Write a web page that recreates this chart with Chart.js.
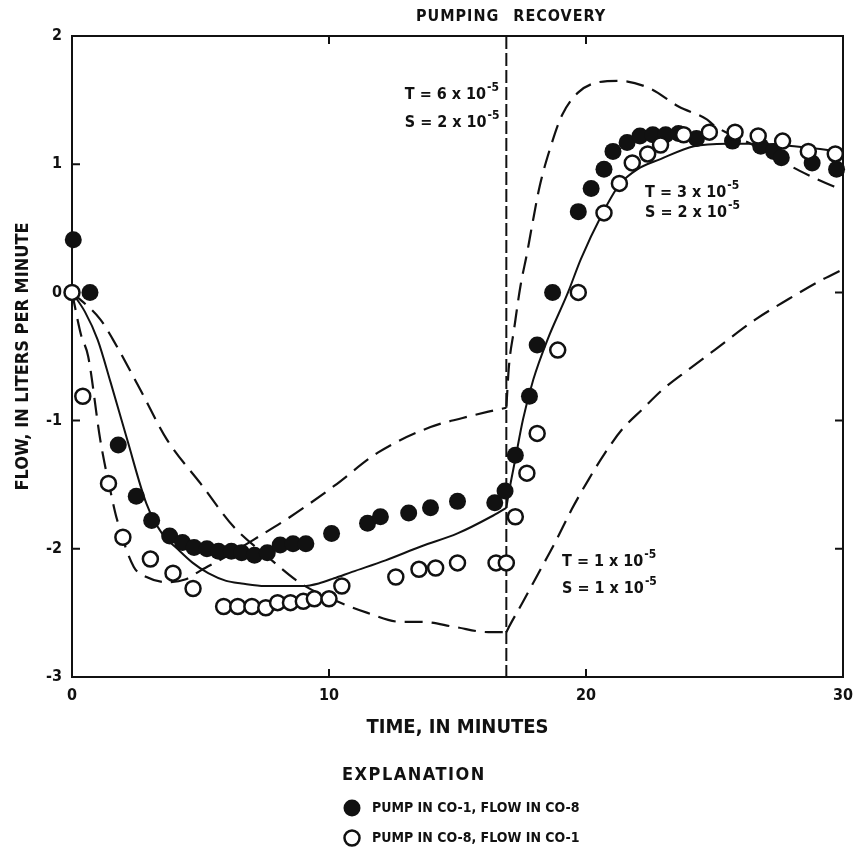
<!DOCTYPE html>
<html>
<head>
<meta charset="utf-8">
<title>Flow, in liters per minute</title>
<script src="https://cdn.jsdelivr.net/npm/chart.js@4.4.0/dist/chart.umd.min.js"></script>
<style>
  body { margin: 0; background: #fff; }
  canvas { display: block; }
</style>
</head>
<body>
<canvas id="chart-canvas" width="853" height="850"></canvas>
<script>
'use strict';

/* DATA */
const pumpEnd = 16.9;
const xTicks = [0, 10, 20, 30];
const yTicks = [2, 1, 0, -1, -2, -3];

// PUMP IN CO-1, FLOW IN CO-8 (filled circles)
const co1X = [0.05, 0.7, 1.8, 2.5, 3.1, 3.8, 4.3, 4.75, 5.25, 5.7, 6.2, 6.6, 7.1, 7.6, 8.1, 8.6, 9.1,
  10.1, 11.5, 12.0, 13.1, 13.95, 15.0, 16.45, 16.85, 17.25, 17.8, 18.1, 18.7, 19.7, 20.2, 20.7,
  21.05, 21.6, 22.1, 22.6, 23.1, 23.6, 24.3, 25.7, 26.8, 27.3, 27.6, 28.8, 29.75];
const co1Y = [0.41, 0.0, -1.19, -1.59, -1.78, -1.90, -1.95, -1.99, -2.0, -2.02, -2.02, -2.03, -2.05, -2.03, -1.97, -1.96, -1.96,
  -1.88, -1.80, -1.75, -1.72, -1.68, -1.63, -1.64, -1.55, -1.27, -0.81, -0.41, 0.0, 0.63, 0.81, 0.96,
  1.10, 1.17, 1.22, 1.23, 1.23, 1.24, 1.20, 1.18, 1.14, 1.10, 1.05, 1.01, 0.96];

// PUMP IN CO-8, FLOW IN CO-1 (open circles)
const co8X = [0, 0.42, 1.42, 1.98, 3.05, 3.93, 4.71, 5.9, 6.45, 7.0, 7.54, 8.0, 8.5, 9.0, 9.43, 10.0, 10.5,
  12.6, 13.5, 14.15, 15.0, 16.5, 16.9, 17.25, 17.7, 18.1, 18.9, 19.7, 20.7, 21.3, 21.8, 22.4, 22.9,
  23.8, 24.8, 25.8, 26.7, 27.65, 28.65, 29.7];
const co8Y = [0, -0.81, -1.49, -1.91, -2.08, -2.19, -2.31, -2.45, -2.45, -2.45, -2.46, -2.42, -2.42, -2.41, -2.39, -2.39, -2.29,
  -2.22, -2.16, -2.15, -2.11, -2.11, -2.11, -1.75, -1.41, -1.10, -0.45, 0.0, 0.62, 0.85, 1.01, 1.08, 1.15,
  1.23, 1.25, 1.25, 1.22, 1.18, 1.10, 1.08];

// model curve T = 3 x 10-5, S = 2 x 10-5 (solid)
const fitPumpX = [0, 0.5, 1.0, 1.5, 2.15, 2.9, 3.5, 4.1, 4.7, 5.3, 6.0, 6.6, 7.5, 8.3, 9.0, 9.6, 10.2, 10.9, 12.2, 13.6, 15.0, 16.3, 16.9];
const fitPumpY = [0, -0.15, -0.37, -0.7, -1.15, -1.65, -1.88, -2.0, -2.11, -2.19, -2.25, -2.27, -2.29, -2.29, -2.29, -2.27, -2.23, -2.18, -2.09, -1.98, -1.88, -1.75, -1.68];
const fitRecX = [16.9, 17.0, 17.25, 17.55, 17.95, 18.5, 19.3, 19.8, 20.6, 21.3, 22.0, 22.9, 24.2, 25.5, 26.8, 28.1, 29.4, 30];
const fitRecY = [-1.68, -1.56, -1.3, -0.99, -0.68, -0.37, 0.0, 0.26, 0.6, 0.84, 0.96, 1.04, 1.14, 1.16, 1.16, 1.14, 1.11, 1.09];

// model curve T = 6 x 10-5, S = 2 x 10-5 (dashed)
const fastPumpX = [0, 0.35, 0.63, 1.1, 1.55, 1.75, 2.4, 2.9, 3.7, 4.4, 5.0, 6.0, 7.06, 8.5, 10.2, 11.9, 13.95, 15.2, 16.2, 16.9];
const fastPumpY = [0, -0.33, -0.5, -1.15, -1.6, -1.77, -2.14, -2.22, -2.26, -2.24, -2.17, -2.06, -1.93, -1.75, -1.51, -1.25, -1.05, -0.98, -0.93, -0.9];
const fastRecX = [16.9, 17.0, 17.2, 17.45, 17.7, 17.9, 18.2, 18.6, 19.06, 19.7, 20.5, 21.3, 22.5, 23.6, 24.7, 25.0, 26.5, 28.3, 29.6, 30];
const fastRecY = [-0.9, -0.58, -0.29, 0.05, 0.3, 0.52, 0.83, 1.12, 1.38, 1.56, 1.64, 1.65, 1.59, 1.45, 1.35, 1.30, 1.15, 0.95, 0.83, 0.80];

// model curve T = 1 x 10-5, S = 1 x 10-5 (dashed)
const slowPumpX = [0, 1.1, 1.6, 2.66, 3.7, 5.0, 6.3, 7.6, 8.9, 10.2, 11.5, 12.8, 13.6, 14.9, 16.2, 16.9];
const slowPumpY = [0, -0.21, -0.37, -0.76, -1.15, -1.49, -1.83, -2.06, -2.27, -2.4, -2.5, -2.57, -2.57, -2.61, -2.65, -2.65];
const slowRecX = [16.9, 17.0, 17.5, 18.15, 18.8, 19.45, 20.1, 20.75, 21.4, 22.2, 22.97, 24.0, 25.0, 26.6, 27.9, 29.2, 30];
const slowRecY = [-2.65, -2.61, -2.43, -2.19, -1.95, -1.69, -1.46, -1.25, -1.07, -0.91, -0.76, -0.6, -0.45, -0.21, -0.05, 0.1, 0.18];

// texts
const seriesNames = ['PUMP IN CO-1, FLOW IN CO-8', 'PUMP IN CO-8, FLOW IN CO-1'];
const modelTexts = [
  ['T = 6 x 10', 'S = 2 x 10'],
  ['T = 3 x 10', 'S = 2 x 10'],
  ['T = 1 x 10', 'S = 1 x 10'],
];
const exponent = '-5';
const phaseNames = ['PUMPING', 'RECOVERY'];

/* STYLE */
const ink = '#111';
const family = "'Liberation Sans Narrow', 'DejaVu Sans Condensed', 'Arial Narrow', sans-serif";
const dash = [18, 9];
// where each model label sits, in data units (left edge, first row, second row)
const modelSpots = [[12.95, 1.54, 1.32], [22.3, 0.78, 0.62], [19.07, -2.1, -2.31]];

function toPoints(xs, ys) {
  return xs.map((x, i) => ({ x: x, y: ys[i] }));
}

function curve(xs, ys, dashed) {
  return {
    data: toPoints(xs, ys),
    showLine: true,
    borderColor: ink,
    borderWidth: dashed ? 2.2 : 2,
    borderDash: dashed ? dash : [],
    pointRadius: 0,
    cubicInterpolationMode: 'monotone',
    order: 2
  };
}

function font(size) {
  return `bold ${size}px ${family}`;
}

function drawPower(ctx, base, px, py) {
  ctx.font = font(16);
  ctx.fillText(base, px, py);
  const w = ctx.measureText(base).width;
  ctx.font = font(12);
  ctx.fillText(exponent, px + w + 1, py - 7);
}

/* PLUGIN: FRAME, TICKS, PHASE LINE, LABELS, EXPLANATION */
const decorations = {
  id: 'decorations',
  beforeDatasetsDraw(chart) {
    const { ctx, chartArea: a, scales: { x, y } } = chart;
    ctx.save();
    ctx.strokeStyle = ink;
    ctx.lineWidth = 2;
    ctx.strokeRect(a.left, a.top, a.right - a.left, a.bottom - a.top);

    // inside ticks
    const tick = 8;
    ctx.beginPath();
    xTicks.slice(1, -1).forEach(v => {
      const px = x.getPixelForValue(v);
      ctx.moveTo(px, a.bottom); ctx.lineTo(px, a.bottom - tick);
      ctx.moveTo(px, a.top); ctx.lineTo(px, a.top + tick);
    });
    yTicks.slice(1, -1).forEach(v => {
      const py = y.getPixelForValue(v);
      ctx.moveTo(a.left, py); ctx.lineTo(a.left + tick, py);
      ctx.moveTo(a.right, py); ctx.lineTo(a.right - tick, py);
    });
    ctx.stroke();

    // end of pumping
    const px = x.getPixelForValue(pumpEnd);
    ctx.setLineDash([13, 4]);
    ctx.beginPath();
    ctx.moveTo(px, a.top);
    ctx.lineTo(px, a.bottom);
    ctx.stroke();
    ctx.restore();
  },
  afterDatasetsDraw(chart) {
    const { ctx, chartArea: a, scales: { x, y } } = chart;
    const px = x.getPixelForValue(pumpEnd);
    ctx.save();
    ctx.fillStyle = ink;
    ctx.textBaseline = 'middle';

    ctx.font = font(16);
    ctx.letterSpacing = '1px';
    ctx.textAlign = 'right';
    ctx.fillText(phaseNames[0], px - 7, a.top - 19);
    ctx.textAlign = 'left';
    ctx.fillText(phaseNames[1], px + 7, a.top - 19);
    ctx.letterSpacing = '0px';

    modelTexts.forEach((rows, i) => {
      const [lx, y1, y2] = modelSpots[i];
      drawPower(ctx, rows[0], x.getPixelForValue(lx), y.getPixelForValue(y1));
      drawPower(ctx, rows[1], x.getPixelForValue(lx), y.getPixelForValue(y2));
    });

    // explanation
    const ex = 342;
    ctx.font = font(18);
    ctx.letterSpacing = '1.5px';
    ctx.fillText('EXPLANATION', ex, 775);
    ctx.letterSpacing = '0px';
    ctx.font = font(14);
    seriesNames.forEach((name, i) => {
      const cy = 808 + i * 30;
      ctx.beginPath();
      ctx.arc(ex + 10, cy, i === 0 ? 8.5 : 7.5, 0, Math.PI * 2);
      if (i === 0) {
        ctx.fill();
      } else {
        ctx.lineWidth = 2.5;
        ctx.strokeStyle = ink;
        ctx.stroke();
      }
      ctx.fillText(name, ex + 30, cy);
    });
    ctx.restore();
  }
};

/* CHART */
const ctx = document.getElementById('chart-canvas').getContext('2d');

new Chart(ctx, {
  type: 'scatter',
  data: {
    datasets: [
      {
        data: toPoints(co8X, co8Y),
        pointRadius: 7.5,
        pointBackgroundColor: '#fff',
        pointBorderColor: ink,
        pointBorderWidth: 2.5,
        clip: false,
        order: 0
      },
      {
        data: toPoints(co1X, co1Y),
        pointRadius: 8.5,
        pointBackgroundColor: ink,
        pointBorderColor: ink,
        pointBorderWidth: 0,
        clip: false,
        order: 1
      },
      curve(fitPumpX, fitPumpY, false),
      curve(fitRecX, fitRecY, false),
      curve(fastPumpX, fastPumpY, true),
      curve(fastRecX, fastRecY, true),
      curve(slowPumpX, slowPumpY, true),
      curve(slowRecX, slowRecY, true)
    ]
  },
  options: {
    responsive: false,
    animation: false,
    devicePixelRatio: 1,
    layout: { padding: { top: 36, right: 10, left: 0, bottom: 0 } },
    plugins: {
      legend: { display: false },
      tooltip: { enabled: false }
    },
    scales: {
      x: {
        type: 'linear',
        min: xTicks[0],
        max: xTicks[xTicks.length - 1],
        afterBuildTicks: s => { s.ticks = xTicks.map(v => ({ value: v })); },
        afterFit: s => { s.height = 173; s.paddingLeft = 0; s.paddingRight = 0; },
        grid: { display: false, drawTicks: false },
        border: { display: false },
        ticks: { color: ink, padding: 9, font: { family: family, size: 16, weight: 'bold' } },
        title: {
          display: true,
          text: 'TIME, IN MINUTES',
          color: ink,
          font: { family: family, size: 20, weight: 'bold' },
          padding: { top: 0, bottom: 110 }
        }
      },
      y: {
        type: 'linear',
        min: yTicks[yTicks.length - 1],
        max: yTicks[0],
        afterBuildTicks: s => { s.ticks = yTicks.map(v => ({ value: v })); },
        afterFit: s => { s.width = 72; s.paddingTop = 0; s.paddingBottom = 0; },
        grid: { display: false, drawTicks: false },
        border: { display: false },
        ticks: { color: ink, padding: 10, font: { family: family, size: 16, weight: 'bold' } },
        title: {
          display: true,
          text: 'FLOW, IN LITERS PER MINUTE',
          color: ink,
          font: { family: family, size: 18, weight: 'bold' },
          padding: { top: 13, bottom: 0 }
        }
      }
    }
  },
  plugins: [decorations]
});
</script>
</body>
</html>
